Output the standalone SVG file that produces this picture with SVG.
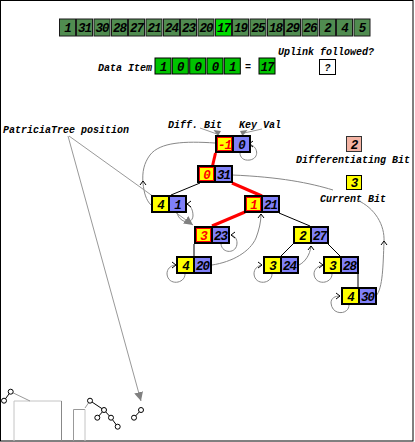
<svg xmlns="http://www.w3.org/2000/svg" xmlns:xlink="http://www.w3.org/1999/xlink" width="415" height="442" viewBox="0 0 415 442">
<style>
.ac{fill:#508c50;stroke:#1a1a1a;stroke-width:1}
.ach{fill:#00dc00;stroke:#1a1a1a;stroke-width:1}
.dc{fill:#00c400;stroke:#000;stroke-width:1}
.bit{fill:#ffff00;stroke:#000;stroke-width:2}
.key{fill:#8080f8;stroke:#000;stroke-width:2}
.red{fill:none;stroke:#f00;stroke-width:1}
.num{font-family:"Liberation Mono",monospace;font-weight:bold;font-style:italic;font-size:12.5px;text-anchor:middle;letter-spacing:-1px;fill:#000}
.rn{fill:#f00}
.lbl{font-family:"Liberation Mono",monospace;font-weight:bold;font-style:italic;font-size:10px;fill:#000}
.up{fill:none;stroke:#888;stroke-width:1}
.ptr{fill:none;stroke:#999;stroke-width:1}
.edge{stroke:#000;stroke-width:1;fill:none}
.redge{stroke:#f00;stroke-width:3;fill:none}
.mc{fill:#fff;stroke:#000;stroke-width:1}
.ml{stroke:#000;stroke-width:1}
.mg{stroke:#999;stroke-width:1}
</style>
<defs>
<path id="chev" d="M-4,-3 L0,0 L-4,3" fill="none" stroke="#000" stroke-width="1"/>
<marker id="tri" viewBox="0 0 10 10" refX="10" refY="5" markerWidth="9" markerHeight="9" markerUnits="userSpaceOnUse" orient="auto">
<path d="M0,0 L10,5 L0,10 z" fill="#808080"/>
</marker>
</defs>
<rect x="0.5" y="0.5" width="412.5" height="440.5" fill="#fff" stroke="#000" stroke-width="1"/>

<g id="array">
<g transform="translate(59.5,19)"><rect class="ac" width="16" height="17"/><text class="num" x="8" y="13">1</text></g>
<g transform="translate(76.5,19)"><rect class="ac" width="16" height="17"/><text class="num" x="8" y="13">31</text></g>
<g transform="translate(94,19)"><rect class="ac" width="16" height="17"/><text class="num" x="8" y="13">30</text></g>
<g transform="translate(111.5,19)"><rect class="ac" width="16" height="17"/><text class="num" x="8" y="13">28</text></g>
<g transform="translate(128.5,19)"><rect class="ac" width="16" height="17"/><text class="num" x="8" y="13">27</text></g>
<g transform="translate(146,19)"><rect class="ac" width="16" height="17"/><text class="num" x="8" y="13">21</text></g>
<g transform="translate(163.5,19)"><rect class="ac" width="16" height="17"/><text class="num" x="8" y="13">24</text></g>
<g transform="translate(180.5,19)"><rect class="ac" width="16" height="17"/><text class="num" x="8" y="13">23</text></g>
<g transform="translate(198,19)"><rect class="ac" width="16" height="17"/><text class="num" x="8" y="13">20</text></g>
<g transform="translate(215.5,19)"><rect class="ach" width="16" height="17"/><text class="num" x="8" y="13">17</text></g>
<g transform="translate(232.5,19)"><rect class="ac" width="16" height="17"/><text class="num" x="8" y="13">19</text></g>
<g transform="translate(250,19)"><rect class="ac" width="16" height="17"/><text class="num" x="8" y="13">25</text></g>
<g transform="translate(267.5,19)"><rect class="ac" width="16" height="17"/><text class="num" x="8" y="13">18</text></g>
<g transform="translate(284.5,19)"><rect class="ac" width="16" height="17"/><text class="num" x="8" y="13">29</text></g>
<g transform="translate(302,19)"><rect class="ac" width="16" height="17"/><text class="num" x="8" y="13">26</text></g>
<g transform="translate(319.5,19)"><rect class="ac" width="16" height="17"/><text class="num" x="8" y="13">2</text></g>
<g transform="translate(336.5,19)"><rect class="ac" width="16" height="17"/><text class="num" x="8" y="13">4</text></g>
<g transform="translate(354,19)"><rect class="ac" width="16" height="17"/><text class="num" x="8" y="13">5</text></g>
</g>

<g id="data-item">
<text class="lbl" x="98" y="71">Data Item</text>
<g transform="translate(155,58)"><rect class="dc" width="16" height="16"/><text class="num" x="8" y="12.5">1</text></g>
<g transform="translate(172.3,58)"><rect class="dc" width="16" height="16"/><text class="num" x="8" y="12.5">0</text></g>
<g transform="translate(189.7,58)"><rect class="dc" width="16" height="16"/><text class="num" x="8" y="12.5">0</text></g>
<g transform="translate(207,58)"><rect class="dc" width="16" height="16"/><text class="num" x="8" y="12.5">0</text></g>
<g transform="translate(224.3,58)"><rect class="dc" width="16" height="16"/><text class="num" x="8" y="12.5">1</text></g>
<text class="lbl" x="245" y="70">=</text>
<g transform="translate(259,58)"><rect class="dc" width="16" height="16"/><text class="num" x="8" y="12.5">17</text></g>
</g>

<g id="uplink-followed">
<text class="lbl" x="278" y="55">Uplink followed?</text>
<rect x="319.5" y="59.5" width="16" height="15" fill="#fff" stroke="#000"/>
<text class="lbl" x="327.5" y="71" text-anchor="middle">?</text>
</g>

<g id="legend">
<text class="lbl" x="168" y="128">Diff. Bit</text>
<text class="lbl" x="239" y="128">Key Val</text>
<rect x="346.5" y="136.5" width="15" height="15" fill="#f4b4a4" stroke="#333"/>
<text class="num" x="354" y="148.5">2</text>
<text class="lbl" x="296" y="163">Differentiating Bit</text>
<rect x="346.5" y="175.5" width="15" height="14" fill="#ffff00" stroke="#000"/>
<text class="num" x="354" y="187">3</text>
<text class="lbl" x="320" y="202">Current Bit</text>
<text class="lbl" x="3" y="133">PatriciaTree position</text>
</g>

<g id="connectors">
<path class="redge" d="M215.5,153 L212.5,166"/>
<path class="redge" d="M232,183 L262,196"/>
<path class="redge" d="M245,212 L212,226"/>
<path class="edge" d="M200,183 L171,195"/>
<path class="edge" d="M279,213 L310,226"/>
<path class="edge" d="M194,244 L194,256"/>
<path class="edge" d="M293,244 L281,256"/>
<path class="edge" d="M328,244 L340,256"/>
<path class="edge" d="M358,274 L358,287"/>

<path class="up" d="M249,144 C258,146 260,158 250,160 C243,161 240,157 240,153"/>
<use xlink:href="#chev" transform="translate(249,144) rotate(180)"/>
<path class="up" d="M215,143 C185,141 160,142 150,155 C144,163 142,172 143,183 C144,193 146,200 151,205"/>
<use xlink:href="#chev" transform="translate(143,181) rotate(-90)"/>
<path class="up" d="M177,212 C178,222 192,226 193,216 C193,210 191,206 187,204"/>
<use xlink:href="#chev" transform="translate(187,204) rotate(180)"/>
<path class="up" d="M221,244 C222,254 237,254 237,243 C237,239 235,236 231,235"/>
<use xlink:href="#chev" transform="translate(231,235) rotate(180)"/>
<path class="up" d="M185,274 C185,284 168,286 167,274 C167,269 170,266 175,265"/>
<use xlink:href="#chev" transform="translate(176,265)"/>
<path class="up" d="M212,265 C232,262 250,252 256,238 C259,230 261,222 261,214"/>
<use xlink:href="#chev" transform="translate(261,214) rotate(-90)"/>
<path class="up" d="M272,274 C272,284 255,286 254,274 C254,269 257,266 262,265"/>
<use xlink:href="#chev" transform="translate(262,265)"/>
<path class="up" d="M299,265 C305,262 310,255 311,246"/>
<use xlink:href="#chev" transform="translate(311,246) rotate(-90)"/>
<path class="up" d="M332,274 C332,284 315,286 314,274 C314,269 318,266 323,265"/>
<use xlink:href="#chev" transform="translate(323,265)"/>
<path class="up" d="M349,305 C349,315 332,316 331,303 C331,298 335,296 340,296"/>
<use xlink:href="#chev" transform="translate(340,296)"/>
<path class="up" d="M376,296 C383,288 383,265 384,242 C385,225 375,208 357,200"/>
<path class="up" d="M333,190 C310,183 280,177 232,175"/>
<use xlink:href="#chev" transform="translate(384,241) rotate(-90)"/>

<path class="ptr" d="M200,128 L217,134"/>
<polygon points="213.5,130 221,131 218,136" fill="#808080"/>
<path class="ptr" d="M262,129 L244,133"/>
<polygon points="240,131 247.5,130 242.5,136" fill="#808080"/>
<path class="ptr" d="M69,136 L193,225" marker-end="url(#tri)"/>
<path class="ptr" d="M68,136 L141,401" marker-end="url(#tri)"/>
</g>

<g id="node-0" transform="translate(215,135)">
<rect class="bit" x="1" y="1" width="17" height="16"/><rect class="red" x="2.5" y="2.5" width="14" height="13"/>
<rect class="key" x="18" y="1" width="17" height="16"/>
<text class="num rn" x="9.5" y="13.5">-1</text><text class="num" x="26.5" y="13.5">0</text>
</g>
<g id="node-31" transform="translate(197,165)">
<rect class="bit" x="1" y="1" width="17" height="16"/><rect class="red" x="2.5" y="2.5" width="14" height="13"/>
<rect class="key" x="18" y="1" width="17" height="16"/>
<text class="num rn" x="9.5" y="13.5">0</text><text class="num" x="26.5" y="13.5">31</text>
</g>
<g id="node-1" transform="translate(151,195)">
<rect class="bit" x="1" y="1" width="17" height="16"/>
<rect class="key" x="18" y="1" width="17" height="16"/>
<text class="num" x="9.5" y="13.5">4</text><text class="num" x="26.5" y="13.5">1</text>
</g>
<g id="node-21" transform="translate(244,195)">
<rect class="bit" x="1" y="1" width="17" height="16"/><rect class="red" x="2.5" y="2.5" width="14" height="13"/>
<rect class="key" x="18" y="1" width="17" height="16"/>
<text class="num rn" x="9.5" y="13.5">1</text><text class="num" x="26.5" y="13.5">21</text>
</g>
<g id="node-23" transform="translate(194,226)">
<rect class="bit" x="1" y="1" width="17" height="16"/><rect class="red" x="2.5" y="2.5" width="14" height="13"/>
<rect class="key" x="18" y="1" width="17" height="16"/>
<text class="num rn" x="9.5" y="13.5">3</text><text class="num" x="26.5" y="13.5">23</text>
</g>
<g id="node-20" transform="translate(176,256)">
<rect class="bit" x="1" y="1" width="17" height="16"/>
<rect class="key" x="18" y="1" width="17" height="16"/>
<text class="num" x="9.5" y="13.5">4</text><text class="num" x="26.5" y="13.5">20</text>
</g>
<g id="node-27" transform="translate(293,226)">
<rect class="bit" x="1" y="1" width="17" height="16"/>
<rect class="key" x="18" y="1" width="17" height="16"/>
<text class="num" x="9.5" y="13.5">2</text><text class="num" x="26.5" y="13.5">27</text>
</g>
<g id="node-24" transform="translate(263,256)">
<rect class="bit" x="1" y="1" width="17" height="16"/>
<rect class="key" x="18" y="1" width="17" height="16"/>
<text class="num" x="9.5" y="13.5">3</text><text class="num" x="26.5" y="13.5">24</text>
</g>
<g id="node-28" transform="translate(323,256)">
<rect class="bit" x="1" y="1" width="17" height="16"/>
<rect class="key" x="18" y="1" width="17" height="16"/>
<text class="num" x="9.5" y="13.5">3</text><text class="num" x="26.5" y="13.5">28</text>
</g>
<g id="node-30" transform="translate(341,287)">
<rect class="bit" x="1" y="1" width="17" height="16"/>
<rect class="key" x="18" y="1" width="17" height="16"/>
<text class="num" x="9.5" y="13.5">4</text><text class="num" x="26.5" y="13.5">30</text>
</g>

<g id="mini-tree">
<line x1="14" y1="441" x2="14" y2="401" stroke="#c4c4c4"/>
<line x1="14" y1="401" x2="61.5" y2="401" stroke="#c4c4c4"/>
<line x1="61.5" y1="401" x2="61.5" y2="441" stroke="#888"/>
<line x1="73.5" y1="441" x2="73.5" y2="409.5" stroke="#999"/>
<line x1="73.5" y1="409.5" x2="85" y2="409.5" stroke="#999"/>
<line x1="85" y1="409.5" x2="85" y2="441" stroke="#c4c4c4"/>
<line class="mg" x1="10.7" y1="391.7" x2="30" y2="401"/>
<line class="mg" x1="90" y1="400.7" x2="85" y2="408"/>
<line class="ml" x1="10.7" y1="391.7" x2="4" y2="400.7"/>
<line class="ml" x1="90" y1="400.7" x2="104" y2="410"/>
<line class="ml" x1="104" y1="410" x2="97.3" y2="417.7"/>
<line class="ml" x1="104" y1="410" x2="111" y2="417.7"/>
<line class="ml" x1="111" y1="417.7" x2="117.7" y2="426.7"/>
<line class="ml" x1="141" y1="410" x2="134" y2="417.7"/>
<circle class="mc" cx="10.7" cy="391.7" r="2.5"/>
<circle class="mc" cx="4" cy="400.7" r="2.5"/>
<circle class="mc" cx="90" cy="400.7" r="2.5"/>
<circle class="mc" cx="104" cy="410" r="2.5"/>
<circle class="mc" cx="97.3" cy="417.7" r="2.5"/>
<circle class="mc" cx="111" cy="417.7" r="2.5"/>
<circle class="mc" cx="117.7" cy="426.7" r="2.5"/>
<circle class="mc" cx="141" cy="410" r="2.5"/>
<circle class="mc" cx="134" cy="417.7" r="2.5"/>
</g>
</svg>
